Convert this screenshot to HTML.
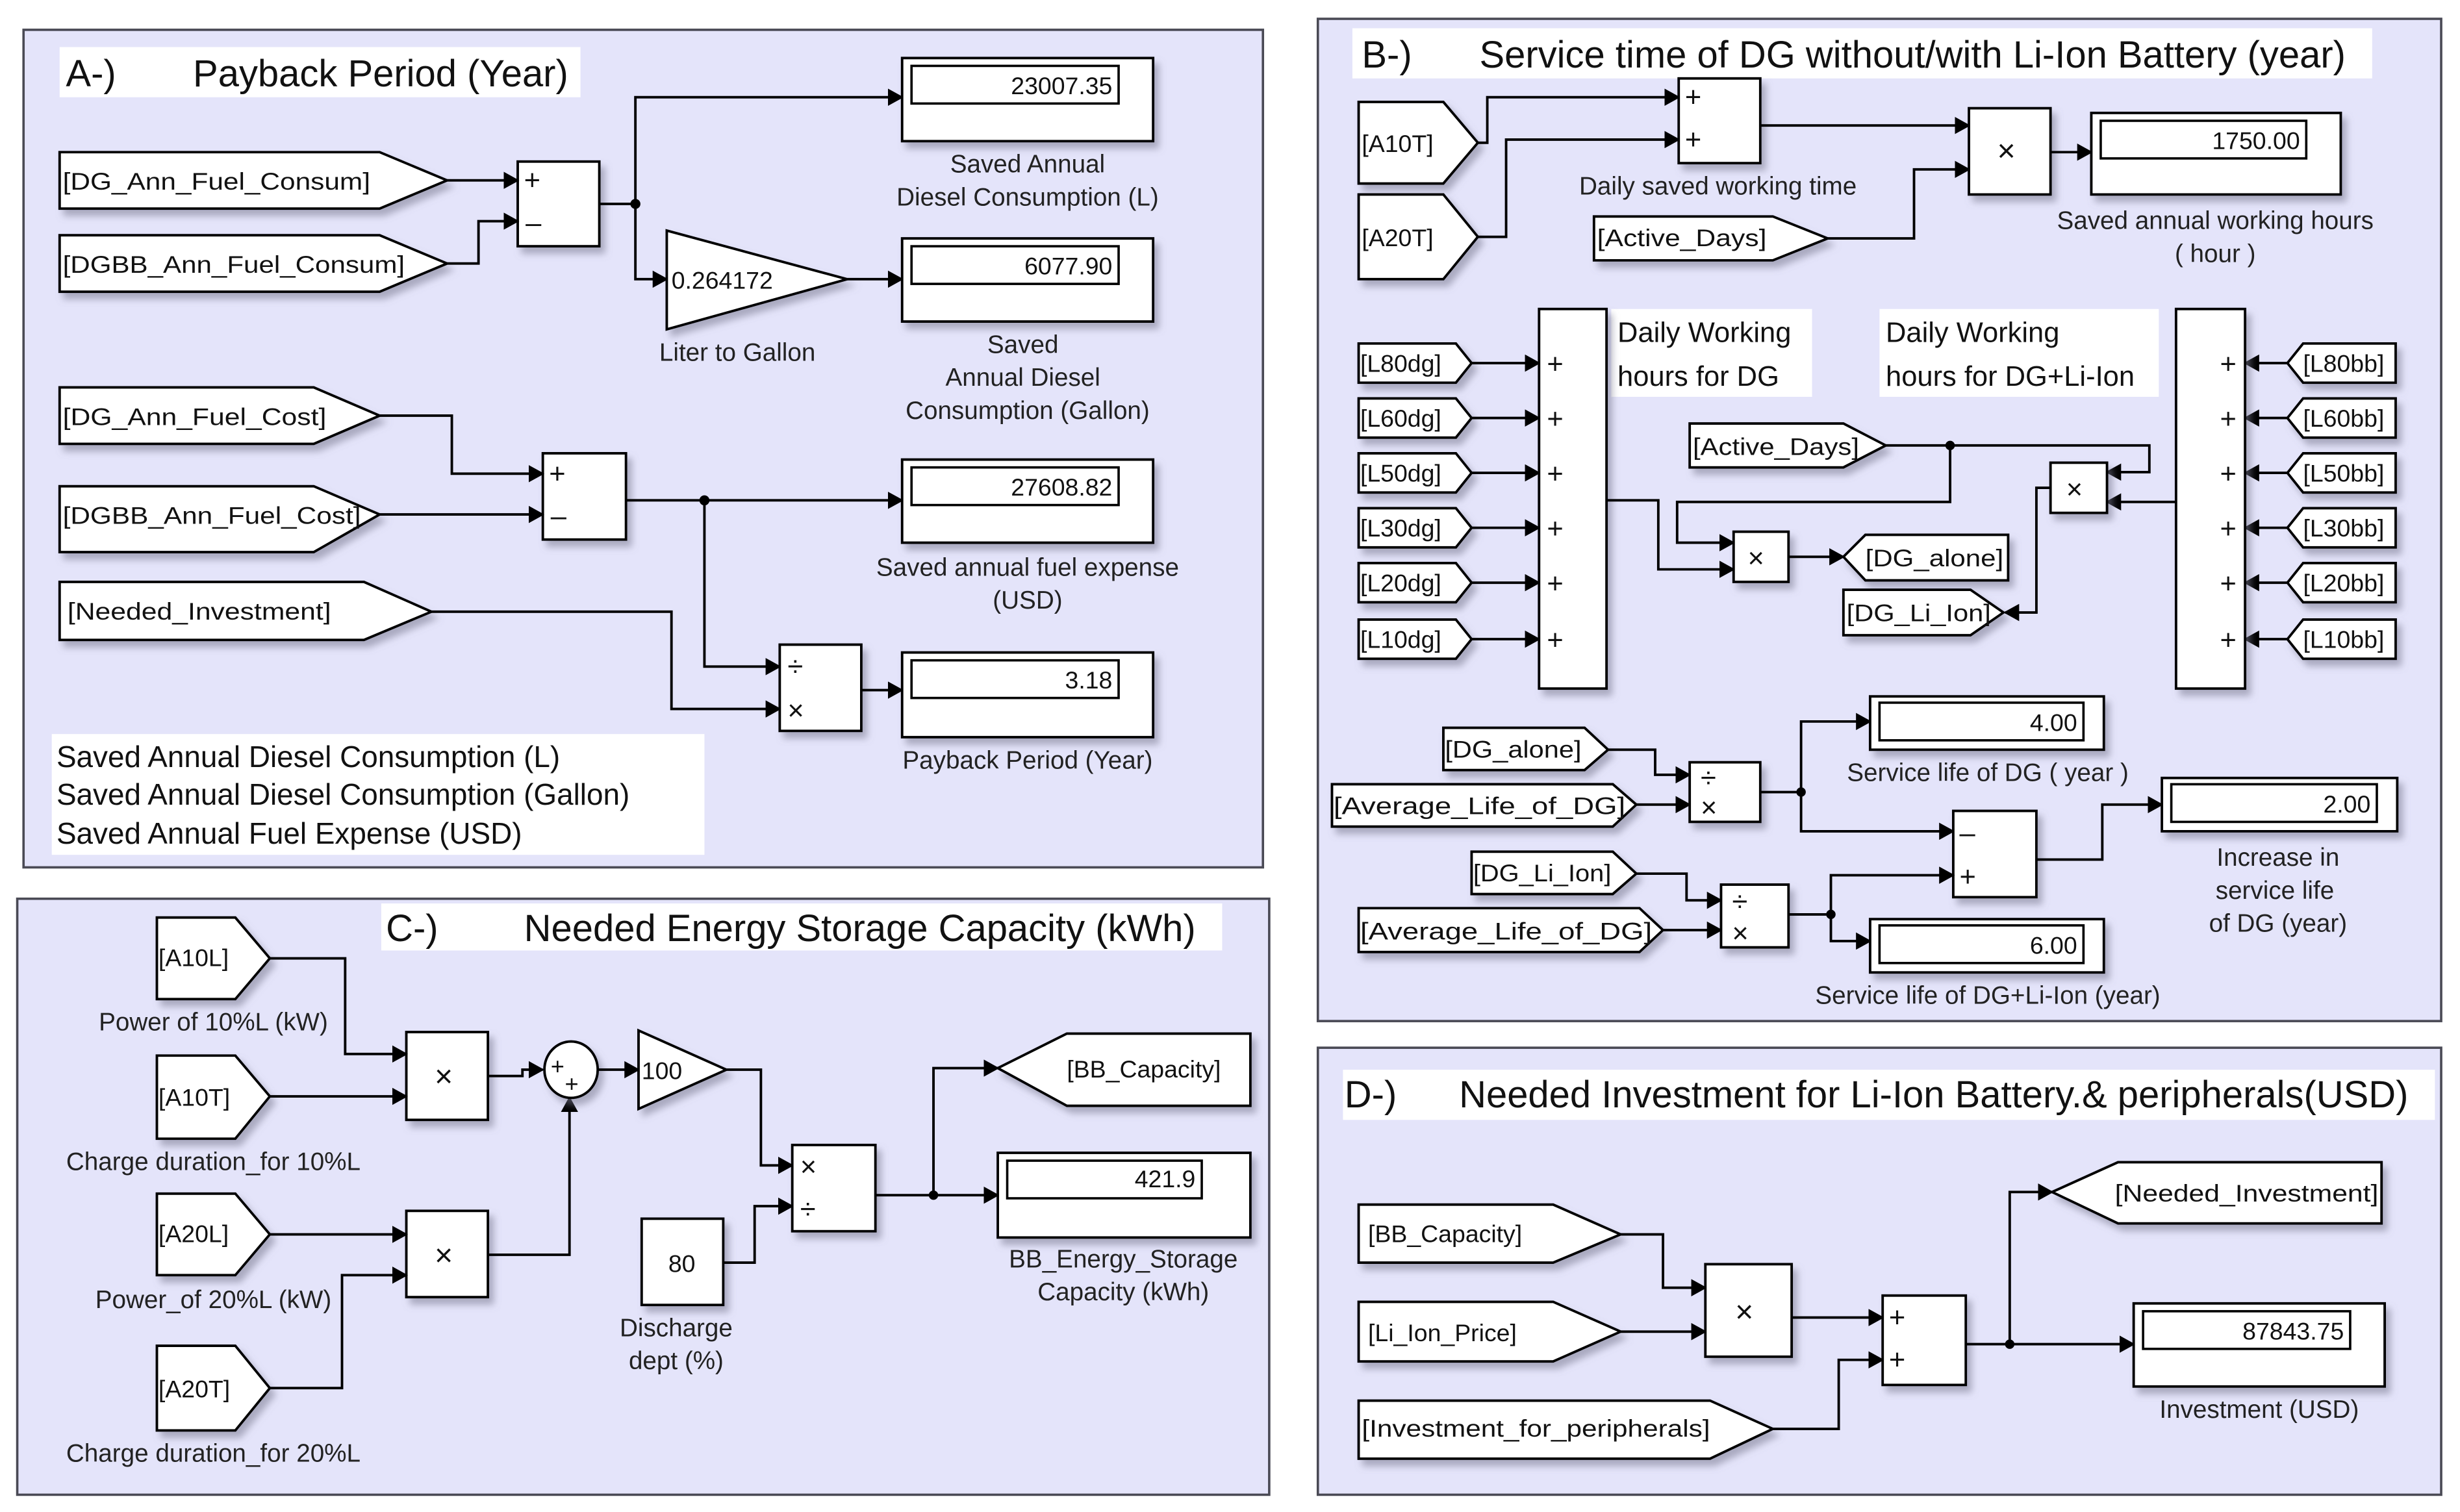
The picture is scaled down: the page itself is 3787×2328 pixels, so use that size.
<!DOCTYPE html>
<html><head><meta charset="utf-8"><style>
html,body{margin:0;padding:0;background:#fff;}
svg{display:block;}
text{font-family:"Liberation Sans",Arial,sans-serif;fill:#111;}
.b{fill:#fff;stroke:#000;stroke-width:1.6;filter:url(#sh);}
.p{fill:#e4e4fa;stroke:#4a4a55;stroke-width:1.5;}
.w{fill:none;stroke:#000;stroke-width:1.6;}
.t{font-size:15.5px;}
.l{font-size:16px;text-anchor:middle;fill:#222;}
.s{font-size:18px;}
.ttl{font-size:24px;fill:#111;}
</style></head><body>
<svg width="3787" height="2328" viewBox="0 0 1568 964" preserveAspectRatio="none" xmlns="http://www.w3.org/2000/svg">
<defs>
<marker id="a" markerUnits="userSpaceOnUse" markerWidth="10" markerHeight="11" refX="9" refY="5.5" orient="auto"><path d="M0,0 L10,5.5 L0,11 z" fill="#000"/></marker>
<filter id="sh" x="-20%" y="-20%" width="150%" height="160%"><feDropShadow dx="3" dy="4" stdDeviation="2.2" flood-color="#7a7a90" flood-opacity="0.55"/></filter>
</defs>
<rect width="1568" height="964" fill="#fff"/>

<!-- ===== Panel A ===== -->
<rect class="p" x="15" y="19" width="790" height="534"/>
<rect x="38" y="30" width="332" height="32" fill="#fff"/>
<text class="ttl" x="42" y="55">A-)</text><text class="ttl" x="123" y="55">Payback Period (Year)</text>

<polygon class="b" points="38,97 242,97 285,115 242,133 38,133"/>
<text class="t" x="40" y="121" textLength="196" lengthAdjust="spacingAndGlyphs">[DG_Ann_Fuel_Consum]</text>
<polygon class="b" points="38,150 242,150 285,168 242,186 38,186"/>
<text class="t" x="40" y="174" textLength="218" lengthAdjust="spacingAndGlyphs">[DGBB_Ann_Fuel_Consum]</text>
<rect class="b" x="330" y="103" width="52" height="54"/>
<text class="s" x="334" y="121">+</text><text class="s" x="335" y="148">–</text>
<polyline class="w" points="285,115 330,115" marker-end="url(#a)"/>
<polyline class="w" points="285,168 305,168 305,141 330,141" marker-end="url(#a)"/>
<polyline class="w" points="382,130 405,130"/>
<polyline class="w" points="405,130 405,62 575,62" marker-end="url(#a)"/>
<polyline class="w" points="405,130 405,178 425,178" marker-end="url(#a)"/>
<circle cx="405" cy="130" r="3.2"/>
<polygon class="b" points="425,147 540,178 425,210"/>
<text class="t" x="428" y="184">0.264172</text>
<text class="l" x="470" y="230">Liter to Gallon</text>
<polyline class="w" points="540,178 575,178" marker-end="url(#a)"/>

<rect class="b" x="575" y="37" width="160" height="53"/>
<rect x="581" y="42" width="132" height="24" fill="#fff" stroke="#000" stroke-width="1.5"/>
<text class="t" x="709" y="60" text-anchor="end">23007.35</text>
<text class="l" x="655" y="110">Saved  Annual</text><text class="l" x="655" y="131">Diesel Consumption (L)</text>

<rect class="b" x="575" y="152" width="160" height="53"/>
<rect x="581" y="157" width="132" height="24" fill="#fff" stroke="#000" stroke-width="1.5"/>
<text class="t" x="709" y="175" text-anchor="end">6077.90</text>
<text class="l" x="652" y="225">Saved</text><text class="l" x="652" y="246">Annual  Diesel</text><text class="l" x="655" y="267">Consumption (Gallon)</text>

<polygon class="b" points="38,247 200,247 242,265 200,283 38,283"/>
<text class="t" x="40" y="271" textLength="168" lengthAdjust="spacingAndGlyphs">[DG_Ann_Fuel_Cost]</text>
<polygon class="b" points="38,310 200,310 242,328 200,352 38,352"/>
<text class="t" x="40" y="334" textLength="190" lengthAdjust="spacingAndGlyphs">[DGBB_Ann_Fuel_Cost]</text>
<rect class="b" x="346" y="289" width="53" height="55"/>
<text class="s" x="350" y="308">+</text><text class="s" x="351" y="335">–</text>
<polyline class="w" points="242,265 288,265 288,302 346,302" marker-end="url(#a)"/>
<polyline class="w" points="242,328 346,328" marker-end="url(#a)"/>
<polyline class="w" points="399,319 575,319" marker-end="url(#a)"/>
<circle cx="449" cy="319" r="3.2"/>
<polyline class="w" points="449,319 449,425 497,425" marker-end="url(#a)"/>
<rect class="b" x="575" y="293" width="160" height="53"/>
<rect x="581" y="298" width="132" height="24" fill="#fff" stroke="#000" stroke-width="1.5"/>
<text class="t" x="709" y="316" text-anchor="end">27608.82</text>
<text class="l" x="655" y="367">Saved annual  fuel expense</text><text class="l" x="655" y="388">(USD)</text>

<polygon class="b" points="38,371 232,371 275,390 232,408 38,408"/>
<text class="t" x="43" y="395" textLength="168" lengthAdjust="spacingAndGlyphs">[Needed_Investment]</text>
<polyline class="w" points="275,390 428,390 428,452 497,452" marker-end="url(#a)"/>
<rect class="b" x="497" y="411" width="52" height="55"/>
<text class="s" x="502" y="431">÷</text><text class="s" x="502" y="459">×</text>
<polyline class="w" points="549,440 575,440" marker-end="url(#a)"/>
<rect class="b" x="575" y="416" width="160" height="54"/>
<rect x="581" y="421" width="132" height="24" fill="#fff" stroke="#000" stroke-width="1.5"/>
<text class="t" x="709" y="439" text-anchor="end">3.18</text>
<text class="l" x="655" y="490">Payback Period (Year)</text>

<rect x="33" y="468" width="416" height="77" fill="#fff"/>
<text x="36" y="489" style="font-size:19px">Saved  Annual Diesel Consumption (L)</text>
<text x="36" y="513" style="font-size:19px">Saved Annual  Diesel Consumption (Gallon)</text>
<text x="36" y="538" style="font-size:19px">Saved Annual Fuel Expense (USD)</text>

<!-- ===== Panel B ===== -->
<rect class="p" x="840" y="12" width="716" height="639"/>
<rect x="862" y="18" width="650" height="32" fill="#fff"/>
<text class="ttl" x="868" y="43">B-)</text><text class="ttl" x="943" y="43">Service time of DG without/with Li-Ion Battery (year)</text>

<polygon class="b" points="866,65 920,65 942,91 920,117 866,117"/>
<text class="t" x="868" y="97">[A10T]</text>
<polygon class="b" points="866,124 920,124 942,151 920,178 866,178"/>
<text class="t" x="868" y="157">[A20T]</text>
<polyline class="w" points="942,91 948,91 948,62 1070,62" marker-end="url(#a)"/>
<polyline class="w" points="942,151 960,151 960,89 1070,89" marker-end="url(#a)"/>
<rect class="b" x="1070" y="50" width="52" height="54"/>
<text class="s" x="1074" y="68">+</text><text class="s" x="1074" y="95">+</text>
<text class="l" x="1095" y="124">Daily saved working time</text>
<polyline class="w" points="1122,80 1255,80" marker-end="url(#a)"/>
<polygon class="b" points="1016,138 1130,138 1165,152 1130,166 1016,166"/>
<text class="t" x="1018" y="157" textLength="108" lengthAdjust="spacingAndGlyphs">[Active_Days]</text>
<polyline class="w" points="1165,152 1220,152 1220,108 1255,108" marker-end="url(#a)"/>
<rect class="b" x="1255" y="69" width="52" height="55"/>
<text x="1273" y="103" style="font-size:20px">×</text>
<polyline class="w" points="1307,97 1333,97" marker-end="url(#a)"/>
<rect class="b" x="1333" y="72" width="159" height="52"/>
<rect x="1339" y="77" width="131" height="24" fill="#fff" stroke="#000" stroke-width="1.5"/>
<text class="t" x="1466" y="95" text-anchor="end">1750.00</text>
<text class="l" x="1412" y="146">Saved  annual working  hours</text><text class="l" x="1412" y="167">( hour )</text>

<rect x="1027" y="197" width="128" height="56" fill="#fff"/>
<text x="1031" y="218" style="font-size:18px">Daily Working</text><text x="1031" y="246" style="font-size:18px">hours for DG</text>
<rect x="1198" y="197" width="178" height="56" fill="#fff"/>
<text x="1202" y="218" style="font-size:18px">Daily Working</text><text x="1202" y="246" style="font-size:18px">hours for DG+Li-Ion</text>

<g>
<polygon class="b" points="866,219 928,219 938,231.5 928,244 866,244"/><text class="t" x="867" y="237">[L80dg]</text>
<polygon class="b" points="866,254 928,254 938,266.5 928,279 866,279"/><text class="t" x="867" y="272">[L60dg]</text>
<polygon class="b" points="866,289 928,289 938,301.5 928,314 866,314"/><text class="t" x="867" y="307">[L50dg]</text>
<polygon class="b" points="866,324 928,324 938,336.5 928,349 866,349"/><text class="t" x="867" y="342">[L30dg]</text>
<polygon class="b" points="866,359 928,359 938,371.5 928,384 866,384"/><text class="t" x="867" y="377">[L20dg]</text>
<polygon class="b" points="866,395 928,395 938,407.5 928,420 866,420"/><text class="t" x="867" y="413">[L10dg]</text>
<polyline class="w" points="938,231.5 981,231.5" marker-end="url(#a)"/>
<polyline class="w" points="938,266.5 981,266.5" marker-end="url(#a)"/>
<polyline class="w" points="938,301.5 981,301.5" marker-end="url(#a)"/>
<polyline class="w" points="938,336.5 981,336.5" marker-end="url(#a)"/>
<polyline class="w" points="938,371.5 981,371.5" marker-end="url(#a)"/>
<polyline class="w" points="938,407.5 981,407.5" marker-end="url(#a)"/>
</g>
<rect class="b" x="981" y="197" width="43" height="242"/>
<text class="s" x="986" y="238">+</text><text class="s" x="986" y="273">+</text><text class="s" x="986" y="308">+</text><text class="s" x="986" y="343">+</text><text class="s" x="986" y="378">+</text><text class="s" x="986" y="414">+</text>

<g>
<polygon class="b" points="1527,219 1468,219 1458,231.5 1468,244 1527,244"/><text class="t" x="1468" y="237">[L80bb]</text>
<polygon class="b" points="1527,254 1468,254 1458,266.5 1468,279 1527,279"/><text class="t" x="1468" y="272">[L60bb]</text>
<polygon class="b" points="1527,289 1468,289 1458,301.5 1468,314 1527,314"/><text class="t" x="1468" y="307">[L50bb]</text>
<polygon class="b" points="1527,324 1468,324 1458,336.5 1468,349 1527,349"/><text class="t" x="1468" y="342">[L30bb]</text>
<polygon class="b" points="1527,359 1468,359 1458,371.5 1468,384 1527,384"/><text class="t" x="1468" y="377">[L20bb]</text>
<polygon class="b" points="1527,395 1468,395 1458,407.5 1468,420 1527,420"/><text class="t" x="1468" y="413">[L10bb]</text>
<polyline class="w" points="1458,231.5 1431,231.5" marker-end="url(#a)"/>
<polyline class="w" points="1458,266.5 1431,266.5" marker-end="url(#a)"/>
<polyline class="w" points="1458,301.5 1431,301.5" marker-end="url(#a)"/>
<polyline class="w" points="1458,336.5 1431,336.5" marker-end="url(#a)"/>
<polyline class="w" points="1458,371.5 1431,371.5" marker-end="url(#a)"/>
<polyline class="w" points="1458,407.5 1431,407.5" marker-end="url(#a)"/>
</g>
<rect class="b" x="1387" y="197" width="44" height="242"/>
<text class="s" x="1415" y="238">+</text><text class="s" x="1415" y="273">+</text><text class="s" x="1415" y="308">+</text><text class="s" x="1415" y="343">+</text><text class="s" x="1415" y="378">+</text><text class="s" x="1415" y="414">+</text>

<polygon class="b" points="1077,270 1175,270 1202,284 1175,298 1077,298"/>
<text class="t" x="1079" y="290" textLength="106" lengthAdjust="spacingAndGlyphs">[Active_Days]</text>
<polyline class="w" points="1202,284 1370,284 1370,301 1343,301" marker-end="url(#a)"/>
<circle cx="1243" cy="284" r="3"/>
<polyline class="w" points="1243,284 1243,320 1069,320 1069,346 1105,346" marker-end="url(#a)"/>
<polyline class="w" points="1024,319 1057,319 1057,363 1105,363" marker-end="url(#a)"/>
<polyline class="w" points="1387,320 1343,320" marker-end="url(#a)"/>
<rect class="b" x="1307" y="295" width="36" height="32"/>
<text x="1317" y="318" style="font-size:18px">×</text>
<rect class="b" x="1105" y="339" width="35" height="32"/>
<text x="1114" y="362" style="font-size:18px">×</text>
<polyline class="w" points="1140,355 1175,355" marker-end="url(#a)"/>
<polygon class="b" points="1280,341 1189,341 1175,355 1189,370 1280,370"/>
<text class="t" x="1189" y="361" textLength="88" lengthAdjust="spacingAndGlyphs">[DG_alone]</text>
<polygon class="b" points="1175,376 1256,376 1277,390.5 1256,405 1175,405"/>
<text class="t" x="1177" y="396" textLength="92" lengthAdjust="spacingAndGlyphs">[DG_Li_Ion]</text>
<polyline class="w" points="1307,311 1298,311 1298,390.5 1278,390.5" marker-end="url(#a)"/>

<polygon class="b" points="920,464 1010,464 1025,478 1010,491 920,491"/>
<text class="t" x="921" y="483" textLength="87" lengthAdjust="spacingAndGlyphs">[DG_alone]</text>
<polygon class="b" points="849,500 1028,500 1043,513 1028,527 849,527"/>
<text class="t" x="850" y="519" textLength="186" lengthAdjust="spacingAndGlyphs">[Average_Life_of_DG]</text>
<polyline class="w" points="1025,478 1055,478 1055,494 1077,494" marker-end="url(#a)"/>
<polyline class="w" points="1043,513 1077,513" marker-end="url(#a)"/>
<rect class="b" x="1077" y="486" width="45" height="38"/>
<text class="s" x="1084" y="502">÷</text><text class="s" x="1084" y="521">×</text>
<polyline class="w" points="1122,505 1148,505"/>
<circle cx="1148" cy="505" r="3"/>
<polyline class="w" points="1148,505 1148,460 1192,460" marker-end="url(#a)"/>
<polyline class="w" points="1148,505 1148,530 1245,530" marker-end="url(#a)"/>
<rect class="b" x="1192" y="444" width="149" height="34"/>
<rect x="1198" y="448" width="130" height="24" fill="#fff" stroke="#000" stroke-width="1.5"/>
<text class="t" x="1324" y="466" text-anchor="end">4.00</text>
<text class="l" x="1267" y="498">Service life of DG ( year )</text>

<rect class="b" x="1245" y="517" width="53" height="55"/>
<text class="s" x="1249" y="537">–</text><text class="s" x="1249" y="565">+</text>
<polyline class="w" points="1298,548 1340,548 1340,513 1378,513" marker-end="url(#a)"/>
<rect class="b" x="1378" y="496" width="150" height="34"/>
<rect x="1384" y="500" width="131" height="24" fill="#fff" stroke="#000" stroke-width="1.5"/>
<text class="t" x="1511" y="518" text-anchor="end">2.00</text>
<text class="l" x="1452" y="552">Increase in</text><text class="l" x="1450" y="573">service life</text><text class="l" x="1452" y="594">of DG (year)</text>

<polygon class="b" points="938,543 1028,543 1043,557 1028,570 938,570"/>
<text class="t" x="939" y="562" textLength="88" lengthAdjust="spacingAndGlyphs">[DG_Li_Ion]</text>
<polygon class="b" points="866,579 1045,579 1060,593 1045,607 866,607"/>
<text class="t" x="867" y="599" textLength="186" lengthAdjust="spacingAndGlyphs">[Average_Life_of_DG]</text>
<polyline class="w" points="1043,557 1075,557 1075,574 1097,574" marker-end="url(#a)"/>
<polyline class="w" points="1060,593 1097,593" marker-end="url(#a)"/>
<rect class="b" x="1097" y="564" width="43" height="40"/>
<text class="s" x="1104" y="581">÷</text><text class="s" x="1104" y="601">×</text>
<polyline class="w" points="1140,583 1167,583"/>
<circle cx="1167" cy="583" r="3"/>
<polyline class="w" points="1167,583 1167,558 1245,558" marker-end="url(#a)"/>
<polyline class="w" points="1167,583 1167,600 1192,600" marker-end="url(#a)"/>
<rect class="b" x="1192" y="586" width="149" height="34"/>
<rect x="1198" y="590" width="130" height="24" fill="#fff" stroke="#000" stroke-width="1.5"/>
<text class="t" x="1324" y="608" text-anchor="end">6.00</text>
<text class="l" x="1267" y="640">Service life of DG+Li-Ion (year)</text>

<!-- ===== Panel C ===== -->
<rect class="p" x="11" y="573" width="798" height="380"/>
<rect x="243" y="576" width="536" height="30" fill="#fff"/>
<text class="ttl" x="246" y="600">C-)</text><text class="ttl" x="334" y="600">Needed Energy Storage Capacity (kWh)</text>

<polygon class="b" points="100,585 150,585 172,611 150,637 100,637"/><text class="t" x="101" y="616">[A10L]</text>
<text class="l" x="136" y="657">Power of 10%L (kW)</text>
<polygon class="b" points="100,673 150,673 172,699 150,726 100,726"/><text class="t" x="101" y="705">[A10T]</text>
<text class="l" x="136" y="746">Charge duration_for 10%L</text>
<polygon class="b" points="100,761 150,761 172,787 150,813 100,813"/><text class="t" x="101" y="792">[A20L]</text>
<text class="l" x="136" y="834">Power_of 20%L (kW)</text>
<polygon class="b" points="100,858 150,858 172,885 150,912 100,912"/><text class="t" x="101" y="891">[A20T]</text>
<text class="l" x="136" y="932">Charge duration_for 20%L</text>

<rect class="b" x="259" y="658" width="52" height="56"/><text x="277" y="693" style="font-size:20px">×</text>
<rect class="b" x="259" y="772" width="52" height="55"/><text x="277" y="807" style="font-size:20px">×</text>
<polyline class="w" points="172,611 220,611 220,672 259,672" marker-end="url(#a)"/>
<polyline class="w" points="172,699 259,699" marker-end="url(#a)"/>
<polyline class="w" points="172,787 259,787" marker-end="url(#a)"/>
<polyline class="w" points="172,885 218,885 218,813 259,813" marker-end="url(#a)"/>
<polyline class="w" points="311,686 333,686 333,682 346,682" marker-end="url(#a)"/>
<polyline class="w" points="311,800 363,800 363,700" marker-end="url(#a)"/>
<ellipse class="b" cx="364" cy="682" rx="17" ry="18"/>
<text x="351" y="685" style="font-size:15px">+</text><text x="360" y="696" style="font-size:15px">+</text>
<polyline class="w" points="381,682 407,682" marker-end="url(#a)"/>
<polygon class="b" points="407,657 463,682 407,707"/>
<text class="t" x="409" y="688">100</text>
<polyline class="w" points="463,682 485,682 485,743 505,743" marker-end="url(#a)"/>
<rect class="b" x="409" y="777" width="52" height="55"/>
<text class="t" x="426" y="811">80</text>
<text class="l" x="431" y="852">Discharge</text><text class="l" x="431" y="873">dept (%)</text>
<polyline class="w" points="461,805 481,805 481,769 505,769" marker-end="url(#a)"/>
<rect class="b" x="505" y="730" width="53" height="55"/>
<text class="s" x="510" y="750">×</text><text class="s" x="510" y="777">÷</text>
<polyline class="w" points="558,762 636,762" marker-end="url(#a)"/>
<circle cx="595" cy="762" r="3"/>
<polyline class="w" points="595,762 595,681 636,681" marker-end="url(#a)"/>
<polygon class="b" points="797,659 680,659 636,681 680,705 797,705"/>
<text class="t" x="680" y="687">[BB_Capacity]</text>
<rect class="b" x="636" y="735" width="161" height="54"/>
<rect x="642" y="740" width="124" height="24" fill="#fff" stroke="#000" stroke-width="1.5"/>
<text class="t" x="762" y="757" text-anchor="end">421.9</text>
<text class="l" x="716" y="808">BB_Energy_Storage</text><text class="l" x="716" y="829">Capacity (kWh)</text>

<!-- ===== Panel D ===== -->
<rect class="p" x="840" y="668" width="716" height="285"/>
<rect x="856" y="682" width="696" height="32" fill="#fff"/>
<text class="ttl" x="857" y="706">D-)</text><text class="ttl" x="930" y="706">Needed Investment for Li-Ion Battery.&amp; peripherals(USD)</text>

<polygon class="b" points="866,768 990,768 1033,787 990,805 866,805"/>
<text class="t" x="872" y="792">[BB_Capacity]</text>
<polygon class="b" points="866,830 990,830 1033,849 990,868 866,868"/>
<text class="t" x="872" y="855">[Li_Ion_Price]</text>
<polygon class="b" points="866,893 1090,893 1130,911 1090,930 866,930"/>
<text class="t" x="868" y="916" textLength="222" lengthAdjust="spacingAndGlyphs">[Investment_for_peripherals]</text>
<polyline class="w" points="1033,787 1060,787 1060,821 1087,821" marker-end="url(#a)"/>
<polyline class="w" points="1033,849 1087,849" marker-end="url(#a)"/>
<rect class="b" x="1087" y="806" width="55" height="59"/>
<text x="1106" y="843" style="font-size:20px">×</text>
<polyline class="w" points="1142,840 1200,840" marker-end="url(#a)"/>
<polyline class="w" points="1130,911 1172,911 1172,867 1200,867" marker-end="url(#a)"/>
<rect class="b" x="1200" y="826" width="53" height="57"/>
<text class="s" x="1204" y="846">+</text><text class="s" x="1204" y="873">+</text>
<polyline class="w" points="1253,857 1360,857" marker-end="url(#a)"/>
<circle cx="1281" cy="857" r="3"/>
<polyline class="w" points="1281,857 1281,760 1308,760" marker-end="url(#a)"/>
<polygon class="b" points="1518,741 1350,741 1308,760 1350,780 1518,780"/>
<text class="t" x="1348" y="766" textLength="168" lengthAdjust="spacingAndGlyphs">[Needed_Investment]</text>
<rect class="b" x="1360" y="831" width="160" height="53"/>
<rect x="1366" y="836" width="132" height="24" fill="#fff" stroke="#000" stroke-width="1.5"/>
<text class="t" x="1494" y="854" text-anchor="end">87843.75</text>
<text class="l" x="1440" y="904">Investment (USD)</text>
</svg>
</body></html>
